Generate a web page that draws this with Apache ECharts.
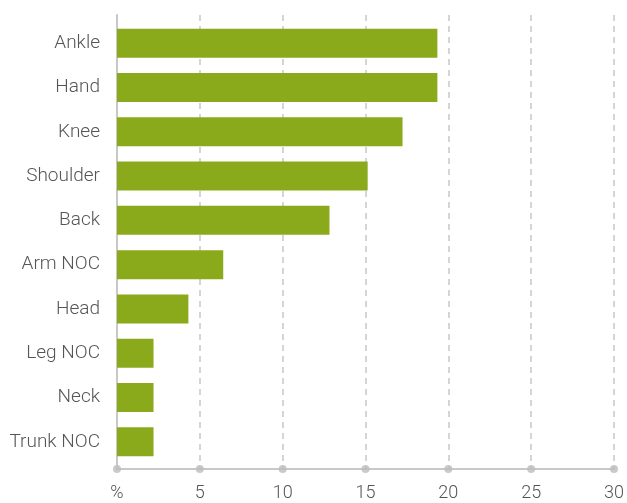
<!DOCTYPE html>
<html>
<head>
<meta charset="utf-8">
<script src="https://cdn.jsdelivr.net/npm/echarts@6/dist/echarts.min.js"></script>
<style>
  html, body { margin: 0; padding: 0; background: #fff; }
  #chart { width: 627px; height: 503px; }
</style>
</head>
<body>
<div id="chart"></div>
<script>
// injury location shares (%)
const categories = ['Ankle', 'Hand', 'Knee', 'Shoulder', 'Back', 'Arm NOC', 'Head', 'Leg NOC', 'Neck', 'Trunk NOC'];
const percents = [19.3, 19.3, 17.2, 15.1, 12.8, 6.4, 4.3, 2.2, 2.2, 2.2];
const tickValues = [0, 5, 10, 15, 20, 25, 30];

const myChart = echarts.init(document.getElementById('chart'));

const labelFont = { fontFamily: 'Roboto', fontWeight: 300, fontSize: 19, color: '#555' };

let option = {
	animation: false,
	grid: [
		// axes frame
		{ left: 117, right: 12, top: 15, bottom: 34 },
		// bars
		{ left: 117, right: 12, top: 21, bottom: 39 }
	],
	xAxis: [{
		gridIndex: 0,
		type: 'value',
		min: 0,
		max: 30,
		interval: 5,
		axisLine: { show: true, lineStyle: { color: '#c8c8c8', width: 2 } },
		axisTick: { show: false },
		axisLabel: Object.assign({
			margin: 15,
			formatter: function(v) { return v === 0 ? '%' : v; }
		}, labelFont, { fontSize: 18 }),
		splitLine: { show: true, lineStyle: { color: '#c8c8c8', width: 1.5, type: [6, 5] } }
	}, {
		gridIndex: 1,
		type: 'value',
		min: 0,
		max: 30,
		show: false
	}],
	yAxis: [{
		gridIndex: 0,
		type: 'value',
		min: 0,
		max: 1,
		axisLine: { show: true, lineStyle: { color: '#c8c8c8', width: 2 } },
		axisTick: { show: false },
		axisLabel: { show: false },
		splitLine: { show: false }
	}, {
		gridIndex: 1,
		type: 'category',
		inverse: true,
		data: categories,
		axisLine: { show: false },
		axisTick: { show: false },
		axisLabel: Object.assign({ margin: 17 }, labelFont),
		splitLine: { show: false }
	}],
	series: [{
		// dots on the x axis ticks
		type: 'scatter',
		xAxisIndex: 0,
		yAxisIndex: 0,
		symbolSize: 8,
		clip: false,
		itemStyle: { color: '#bdbdbd' },
		data: tickValues.map(function(v) { return [v, 0]; }),
		z: 5
	}, {
		type: 'bar',
		xAxisIndex: 1,
		yAxisIndex: 1,
		barWidth: 29,
		itemStyle: { color: '#8aaa1b' },
		data: percents
	}]
};

myChart.setOption(option);
</script>
</body>
</html>
